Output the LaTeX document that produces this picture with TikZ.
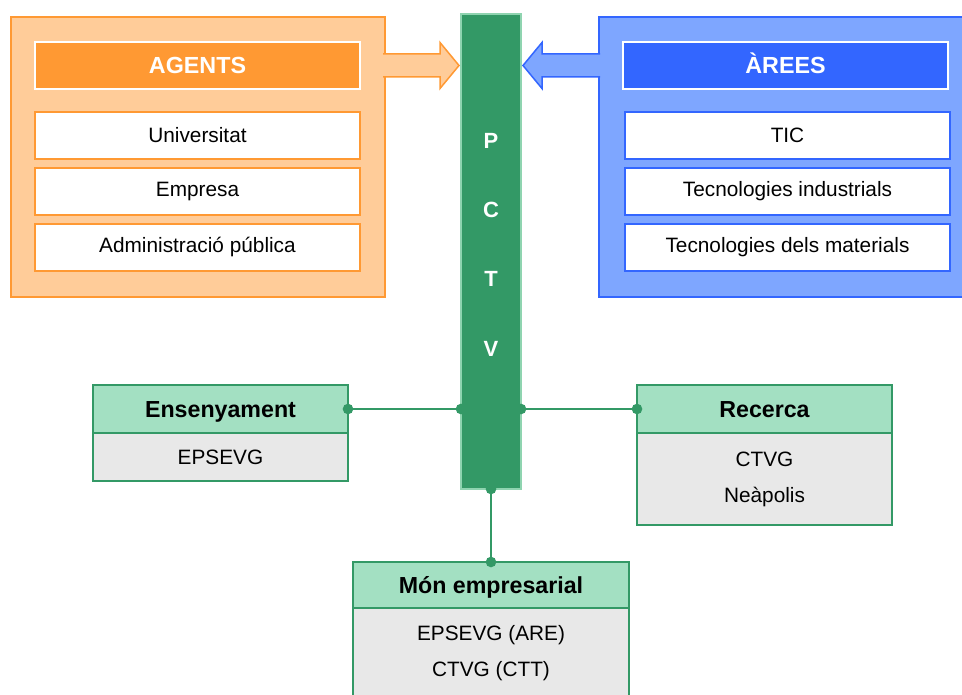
\documentclass[tikz,border=0pt]{standalone}
\usepackage{fontspec}
\setmainfont{Liberation Sans}
\usepackage{xcolor}
\usepackage{tikz}
\usetikzlibrary{arrows.meta,positioning,calc}
\definecolor{orgline}{HTML}{FF9933}
\definecolor{orglight}{HTML}{FFCC99}
\definecolor{bluline}{HTML}{3366FF}
\definecolor{blulight}{HTML}{7EA6FF}
\definecolor{grn}{HTML}{339966}
\definecolor{grnlight}{HTML}{A3E0C2}
\definecolor{grnedge}{HTML}{8FD4B0}
\definecolor{greybody}{HTML}{E8E8E8}
\tikzset{
  base/.style={align=center, inner sep=0pt, outer sep=0pt, text=black, font=\fontsize{20.8}{36}\selectfont},
  panel/.style={base, rectangle, anchor=north west, line width=1.5pt, minimum width=374pt, minimum height=280pt},
  headbox/.style={base, rectangle, draw=white, line width=1.5pt, text=white, font=\bfseries\fontsize{23.3}{26}\selectfont, text height=16.7pt, text depth=0pt, minimum width=325pt, minimum height=47pt},
  itembox/.style={base, rectangle, fill=white, line width=1.5pt, minimum width=325pt, minimum height=47pt},
  bar/.style={base, rectangle, anchor=north west, fill=grn, draw=grnedge, line width=1.5pt, minimum width=60pt, minimum height=475pt},
  grouphead/.style={base, rectangle, anchor=north west, fill=grnlight, draw=grn, line width=1.5pt, font=\bfseries\fontsize{23.2}{26}\selectfont, text height=16.7pt, text depth=0pt, minimum height=48pt},
  groupbody/.style={base, rectangle, fill=greybody, draw=grn, line width=1.5pt},
  fatarrow/.style={line width=1.5pt, line join=miter},
  link/.style={draw=grn, line width=1.8pt, {Circle[length=10.5pt]}-{Circle[length=10.5pt]}, shorten <=-5.25pt, shorten >=-5.25pt}
}

\begin{document}
\begin{tikzpicture}[x=1pt, y=-1pt]
  \useasboundingbox (0,0) rectangle (962,695);

  % Left panel: agents
  \node[panel, draw=orgline, fill=orglight] (agents) at (11,17) {};
  \node[headbox, fill=orgline, anchor=north west] (agenthead) at ($(agents.north west)+(24,25)$) {AGENTS};
  \node[itembox, draw=orgline, below=23pt of agenthead] (univ) {Universitat};
  \node[itembox, draw=orgline, below=9pt of univ] (empresa) {Empresa};
  \node[itembox, draw=orgline, below=9pt of empresa] (admin) {Administració pública};

  % Right panel: areas
  \node[panel, draw=bluline, fill=blulight] (arees) at (599,17) {};
  \node[headbox, fill=bluline, anchor=north west] (areeshead) at ($(arees.north west)+(24,25)$) {ÀREES};
  \node[itembox, draw=bluline, below=23pt of areeshead, xshift=2pt] (tic) {TIC};
  \node[itembox, draw=bluline, below=9pt of tic] (tind) {Tecnologies industrials};
  \node[itembox, draw=bluline, below=9pt of tind] (tmat) {Tecnologies dels materials};

  % Central bar
  \node[bar] (pctv) at (461,14) {};
  \node[base, text=white, font=\bfseries\fontsize{22}{69.3}\selectfont] (pctvtext) at ($(pctv.center)+(0,-7)$) {P\\C\\T\\V};

  % Big arrows into the bar
  \coordinate (oarr) at (agents.east |- agenthead.east);
  \coordinate (otip) at ($(pctv.west |- oarr)+(-2,0)$);
  \draw[fatarrow, draw=orgline, fill=orglight] ($(oarr)+(-2,-11.5)$) -- ($(otip)+(-19,-11.5)$)
       -- ($(otip)+(-19,-23)$) -- (otip) -- ($(otip)+(-19,23)$) -- ($(otip)+(-19,11.5)$) -- ($(oarr)+(-2,11.5)$);
  \coordinate (barr) at (arees.west |- areeshead.west);
  \coordinate (btip) at ($(pctv.east |- barr)+(2,0)$);
  \draw[fatarrow, draw=bluline, fill=blulight] ($(barr)+(1,-11.5)$) -- ($(btip)+(19,-11.5)$)
       -- ($(btip)+(19,-23)$) -- (btip) -- ($(btip)+(19,23)$) -- ($(btip)+(19,11.5)$) -- ($(barr)+(1,11.5)$);

  % Groups round the bar
  \node[grouphead, minimum width=255pt] (ensh) at (93,385) {Ensenyament};
  \node[groupbody, minimum width=255pt, minimum height=48pt, below=0pt of ensh] (ensb) {EPSEVG};
  \node[grouphead, minimum width=255pt] (rech) at (637,385) {Recerca};
  \node[groupbody, minimum width=255pt, minimum height=92pt, below=0pt of rech] (recb) {CTVG\\Neàpolis};
  \node[grouphead, minimum width=276pt, minimum height=46pt] (monh) at (353,562) {Món empresarial};
  \node[groupbody, minimum width=276pt, minimum height=90pt, below=0pt of monh] (monb) {EPSEVG (ARE)\\CTVG (CTT)};

  % Links
  \draw[link] (ensh.east) -- (pctv.west |- ensh.east);
  \draw[link] (pctv.east |- rech.west) -- (rech.west);
  \draw[link] (pctv.south) -- (monh.north);
\end{tikzpicture}
\end{document}
